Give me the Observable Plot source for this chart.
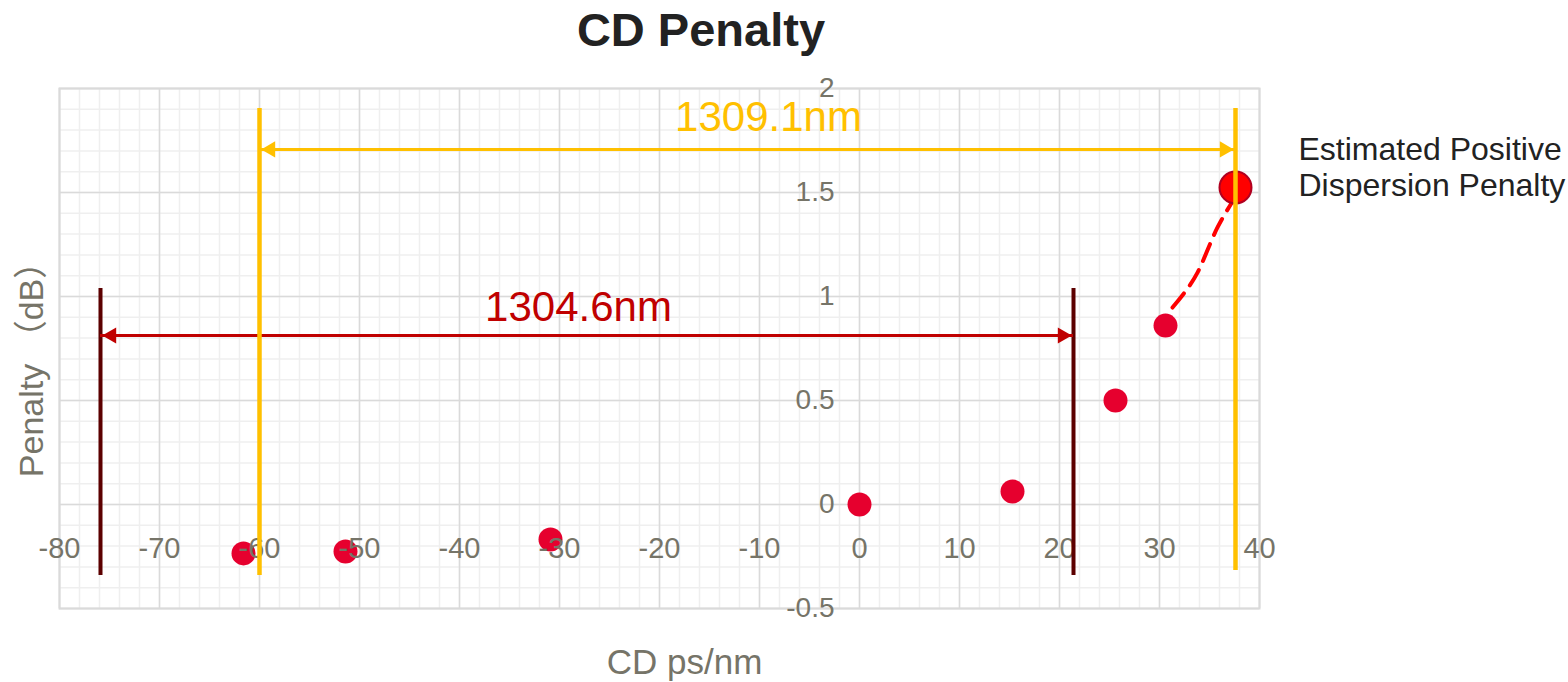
<!DOCTYPE html>
<html><head><meta charset="utf-8">
<script src="https://cdn.jsdelivr.net/npm/d3@7"></script>
<script src="https://cdn.jsdelivr.net/npm/@observablehq/plot@0.6"></script>
<style>
body{margin:0;background:#fff;font-family:"Liberation Sans",Arial,sans-serif;}
#title{height:60px;line-height:60px;width:1402px;text-align:center;font-size:47px;font-weight:bold;color:#222;}
#chart svg{overflow:visible;}
</style></head><body>
<div id="title">CD Penalty</div>
<div id="chart"></div>
<script>
// measured points
const cd = [-61.6, -51.4, -30.9, 0, 15.3, 25.6, 30.6];
const penalty = [-0.235, -0.226, -0.168, 0, 0.062, 0.5, 0.86];
// estimated point
const estCd = [37.6];
const estPenalty = [1.524];
// dashed extrapolation curve
const curveCd = [31.3, 32.8, 33.8, 35.8, 37.3];
const curvePenalty = [0.947, 1.038, 1.115, 1.332, 1.457];
// range markers
const yellowX = [-60, 37.6];
const yellowArrowY = 1.707;
const yellowLabel = "1309.1nm";
const redX = [-75.9, 21.4];
const redArrowY = 0.8125;
const redLabel = "1304.6nm";
// ticks
const xTicks = [-80, -70, -60, -50, -40, -30, -20, -10, 0, 10, 20, 30, 40];
const xTickLabels = ["-80", "-70", "-60", "-50", "-40", "-30", "-20", "-10", "0", "10", "20", "30", "40"];
const yTicks = [-0.5, 0, 0.5, 1, 1.5, 2];
const yTickLabels = ["-0.5", "0", "0.5", "1", "1.5", "2"];
const xMinor = d3.range(-80, 41, 2);
const yMinor = d3.range(-5, 21, 1).map(d => d / 10);
const annotation = "Estimated Positive\nDispersion Penalty";

const pts = cd.map((x, i) => ({x, y: penalty[i]}));
const est = estCd.map((x, i) => ({x, y: estPenalty[i]}));
const curve = curveCd.map((x, i) => ({x, y: curvePenalty[i]}));

const gray = "#767468";
const yellow = "#ffc000";
const red = "#c00000";
const maroon = "#5c0000";
const font = "Liberation Sans, Arial, Noto Sans CJK SC, sans-serif";

const chart = Plot.plot({
  width: 1568, height: 622,
  marginTop: 28, marginBottom: 74, marginLeft: 59, marginRight: 309,
  x: {domain: [-80, 40], axis: null},
  y: {domain: [-0.5, 2], axis: null},
  style: {fontFamily: font, background: "white"},
  marks: [
    Plot.ruleX(xMinor, {stroke: "#efefef", strokeWidth: 1.5}),
    Plot.ruleY(yMinor, {stroke: "#efefef", strokeWidth: 1.5}),
    Plot.ruleX(xTicks, {stroke: "#dadada", strokeWidth: 1.5}),
    Plot.ruleY(yTicks, {stroke: "#dadada", strokeWidth: 1.5}),
    Plot.frame({stroke: "#dadada", strokeWidth: 2}),
    Plot.dot(pts, {x: "x", y: "y", r: 12, fill: "#e6002e"}),
    Plot.line(curve, {x: "x", y: "y", curve: "catmull-rom", stroke: "#ff0000", strokeWidth: 4, strokeDasharray: "18,10"}),
    Plot.dot(est, {x: "x", y: "y", r: 16, fill: "#ff0000", stroke: "#b00020", strokeWidth: 2}),
    Plot.text(xTicks, {x: d => d, y: 0, dy: 44, text: (d, i) => xTickLabels[i], fill: gray, fontSize: 29}),
    Plot.text(yTicks, {x: 0, y: d => d, dx: -25, text: (d, i) => yTickLabels[i], fill: gray, fontSize: 28, textAnchor: "end"}),
    // red range
    Plot.ruleX(redX, {y1: -0.341, y2: 1.038, stroke: maroon, strokeWidth: 4}),
    Plot.ruleY([redArrowY], {x1: redX[0], x2: redX[1], stroke: red, strokeWidth: 3}),
    Plot.dot([redArrowY], {x: redX[0], y: d => d, symbol: "triangle", r: 6, rotate: -90, dx: 11, fill: red}),
    Plot.dot([redArrowY], {x: redX[1], y: d => d, symbol: "triangle", r: 6, rotate: 90, dx: -11, fill: red}),
    Plot.text([redLabel], {x: (redX[0] + redX[1]) / 2 - 0.85, y: redArrowY, dy: -28, text: d => d, fill: red, fontSize: 42}),
    // yellow range
    Plot.ruleX(yellowX, {y1: [-0.341, -0.317], y2: 1.904, stroke: yellow, strokeWidth: 4.5}),
    Plot.ruleY([yellowArrowY], {x1: yellowX[0], x2: yellowX[1], stroke: yellow, strokeWidth: 3}),
    Plot.dot([yellowArrowY], {x: yellowX[0], y: d => d, symbol: "triangle", r: 6, rotate: -90, dx: 11, fill: yellow}),
    Plot.dot([yellowArrowY], {x: yellowX[1], y: d => d, symbol: "triangle", r: 6, rotate: 90, dx: -11, fill: yellow}),
    Plot.text([yellowLabel], {x: (yellowX[0] + yellowX[1]) / 2 + 2.1, y: yellowArrowY, dy: -32, text: d => d, fill: yellow, fontSize: 42}),
    // annotation & axis titles
    Plot.text([annotation], {x: 43.9, y: 1.627, text: d => d, textAnchor: "start", fill: "#222", fontSize: 32, lineHeight: 1.13}),
    Plot.text(["CD ps/nm"], {x: -17.5, y: -0.76, text: d => d, fill: gray, fontSize: 35}),
    Plot.text(["Penalty （dB）"], {x: -82.7, y: 0.69, text: d => d, rotate: -90, fill: gray, fontSize: 34, fontFamily: "Liberation Sans, Noto Sans CJK SC, sans-serif"})
  ]
});
document.getElementById("chart").appendChild(chart);
</script>
</body></html>
